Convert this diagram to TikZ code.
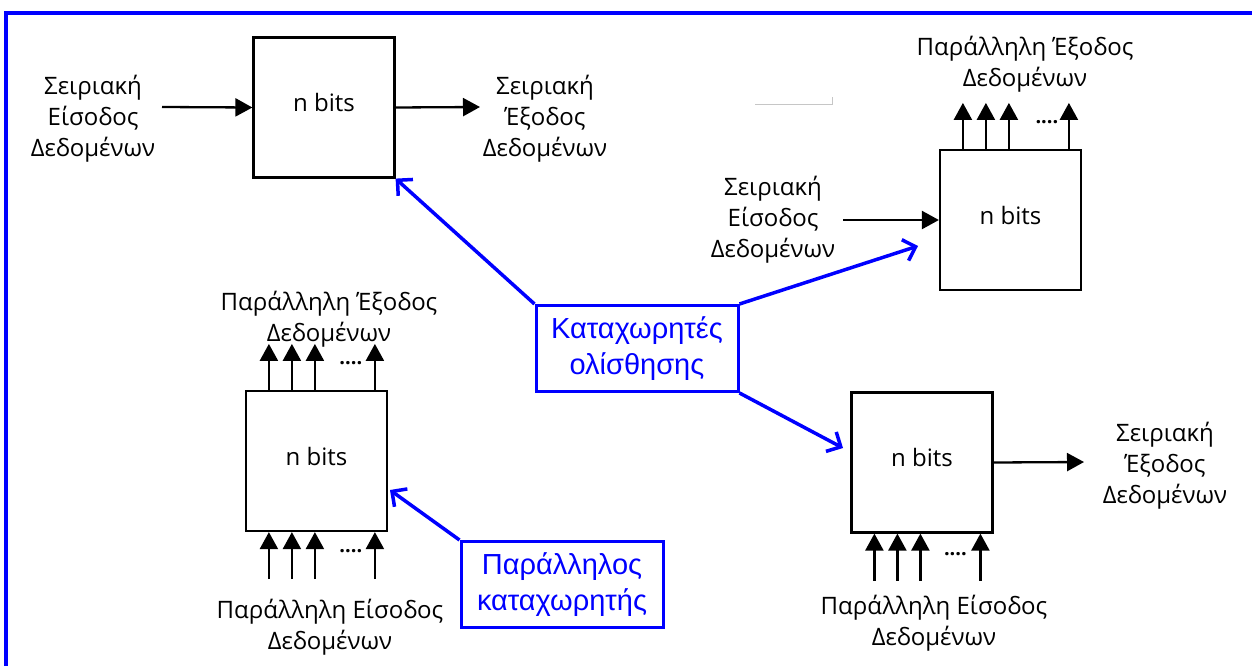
\documentclass[tikz,border=0pt]{standalone}
\usepackage{fontspec}
\setmainfont{Open Sans}
\newfontfamily\bluefont{Liberation Sans}
\usetikzlibrary{positioning,arrows.meta}

\definecolor{regblue}{RGB}{0,0,255}

\tikzset{
  reg/.style={draw,line width=2.2pt,minimum width=141pt,minimum height=140pt,inner sep=0pt,text depth=10pt,font=\fontsize{24}{31}\selectfont},
  lbl/.style={align=center,font=\fontsize{24}{31}\selectfont},
  sig/.style={line width=2.3pt,-{Triangle[length=17pt,width=18pt]}},
  callout/.style={draw=regblue,line width=3pt,text=regblue,align=center,minimum width=202pt,minimum height=86pt,inner sep=0pt,font=\bluefont\fontsize{29}{36}\selectfont},
  point/.style={draw=regblue,line width=3.5pt,-{Straight Barb[length=11pt,width=22pt]}},
  dotsmark/.style={inner sep=0pt,font=\bfseries\fontsize{20}{20}\selectfont}
}

\begin{document}
\begin{tikzpicture}[x=1pt,y=-1pt]
\useasboundingbox (0,0) rectangle (1252,666);

\draw[regblue,line width=4pt] (6,666) -- (6,13) -- (1252,13); %πλαίσιο
\draw[gray!45,line width=1pt] (755,105) -- (832,105) -- (832,97);

% καταχωρητές
\node[reg] (reg1) at (324,107.5) {n bits};
\node[reg] (reg2) at (1010.5,220) {n bits};
\node[reg] (reg3) at (316.5,461) {n bits};
\node[reg] (reg4) at (922,462.5) {n bits};

% ετικέτες
\node[lbl] (in1) at (93,119) {Σειριακή\\Είσοδος\\Δεδομένων};
\node[lbl] (out1) at (545,119) {Σειριακή\\Έξοδος\\Δεδομένων};
\node[lbl] (pout2) at (1025,64) {Παράλληλη Έξοδος\\Δεδομένων};
\node[lbl] (in2) at (773,220) {Σειριακή\\Είσοδος\\Δεδομένων};
\node[lbl] (pout3) at (329,319) {Παράλληλη Έξοδος\\Δεδομένων};
\node[lbl] (pin3) at (330,627) {Παράλληλη Είσοδος\\Δεδομένων};
\node[lbl] (out4) at (1165,466) {Σειριακή\\Έξοδος\\Δεδομένων};
\node[lbl] (pin4) at (934,623) {Παράλληλη Είσοδος\\Δεδομένων};

% σειριακές γραμμές
\coordinate (s1in) at (162,107);
\coordinate (s1out) at (480,107);
\coordinate (s2in) at (843,220);
\coordinate (s4out) at (1084,462);
\draw[sig] (s1in) -- (reg1.west);
\draw[sig] (reg1.east) -- (s1out);
\draw[sig] (s2in) -- (reg2.west);
\draw[sig] (reg4.east) -- (s4out);

% παράλληλες γραμμές
\foreach \dx in {24,47,70,130}{
  \draw[sig] ([xshift=\dx pt]reg2.north west) -- ++(0,-46);
  \draw[sig] ([xshift=\dx pt]reg3.north west) -- ++(0,-46);
  \draw[sig] ([xshift=\dx pt,yshift=-47pt]reg3.south west) -- ([xshift=\dx pt]reg3.south west);
  \draw[sig] ([xshift=\dx pt,yshift=-47pt]reg4.south west) -- ([xshift=\dx pt]reg4.south west);
}
\node[dotsmark] (dots2) at ([xshift=108pt,yshift=27pt]reg2.north west) {....};
\node[dotsmark] (dots3a) at ([xshift=106pt,yshift=27pt]reg3.north west) {....};
\node[dotsmark] (dots3b) at ([xshift=106pt,yshift=-19pt]reg3.south west) {....};
\node[dotsmark] (dots4) at ([xshift=105pt,yshift=-20pt]reg4.south west) {....};

% επεξηγήσεις
\node[callout] (shift) at (637,348.5) {Καταχωρητές\\ολίσθησης};
\node[callout] (par) at (562,584.5) {Παράλληλος\\καταχωρητής};

\coordinate (t2) at (918,246);
\coordinate (t3) at (390,490);
\coordinate (t4) at (843,448);
\draw[point] (shift.north west) -- (reg1.south east);
\draw[point] (shift.north east) -- (t2);
\draw[point] (shift.south east) -- (t4);
\draw[point] (par.north west) -- (t3);

\end{tikzpicture}
\end{document}
